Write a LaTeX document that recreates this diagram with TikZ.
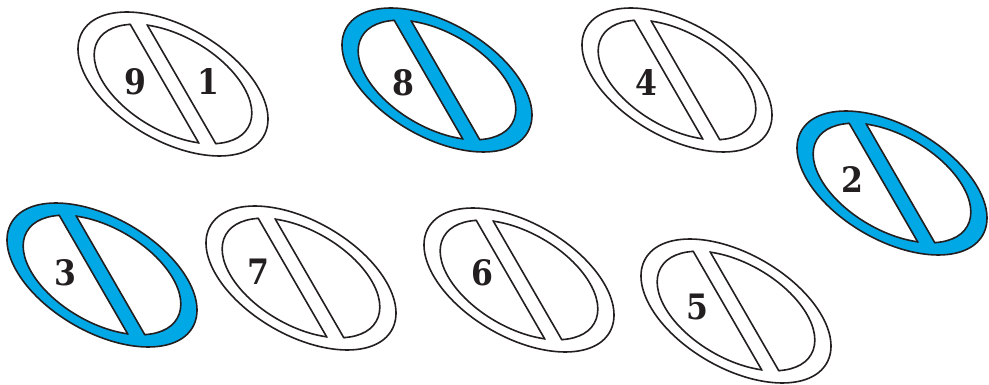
\documentclass[tikz,border=0pt]{standalone}
\usepackage{fontspec}
\setmainfont{DejaVu Serif}
\newfontfamily\digitfont{DejaVu Serif Condensed}
\definecolor{ringblue}{RGB}{0,168,230}
\definecolor{ink}{RGB}{35,31,32}
\tikzset{
  ringline/.style={draw=ink, line width=1.6pt},
  digit/.style={inner sep=0pt, font=\digitfont\bfseries\fontsize{35}{38}\selectfont, text=ink}
}
\newcommand\barring[3]{% cx, cy (image px), fill colour
  \begin{scope}[shift={(#1,-#2)}, rotate=-60]
    \filldraw[ringline, fill=#3, rotate=30] (0,0) ellipse (104.6 and 57.1);
    \foreach \s in {1,-1}{
      \begin{scope}
        \clip (-160,\s*7.2) rectangle (160,\s*160);
        \filldraw[ringline, fill=white, rotate=30] (0,0) ellipse (86.8 and 47.4);
      \end{scope}
      \begin{scope}
        \clip[rotate=30] (0,0) ellipse (87.5 and 48.1);
        \draw[ringline] (-160,\s*7.2) -- (160,\s*7.2);
      \end{scope}
    }
  \end{scope}
}
\begin{document}
\begin{tikzpicture}[x=1pt,y=1pt]
  \useasboundingbox (0,0) rectangle (989,-385);
  \barring{173}{84}{white}
  \barring{437}{80}{ringblue}
  \barring{677}{80}{white}
  \barring{892}{183}{ringblue}
  \barring{102}{275}{ringblue}
  \barring{301}{278}{white}
  \barring{519}{280}{white}
  \barring{736}{311}{white}
  \node[digit] (n9) at (135,-82) {9};
  \node[digit] (n1) at (208,-82) {1};
  \node[digit] (n8) at (403,-83) {8};
  \node[digit] (n4) at (646,-83) {4};
  \node[digit] (n2) at (852,-180) {2};
  \node[digit] (n3) at (65,-273) {3};
  \node[digit] (n7) at (258,-272) {7};
  \node[digit] (n6) at (482,-273) {6};
  \node[digit] (n5) at (697,-307) {5};
\end{tikzpicture}
\end{document}
